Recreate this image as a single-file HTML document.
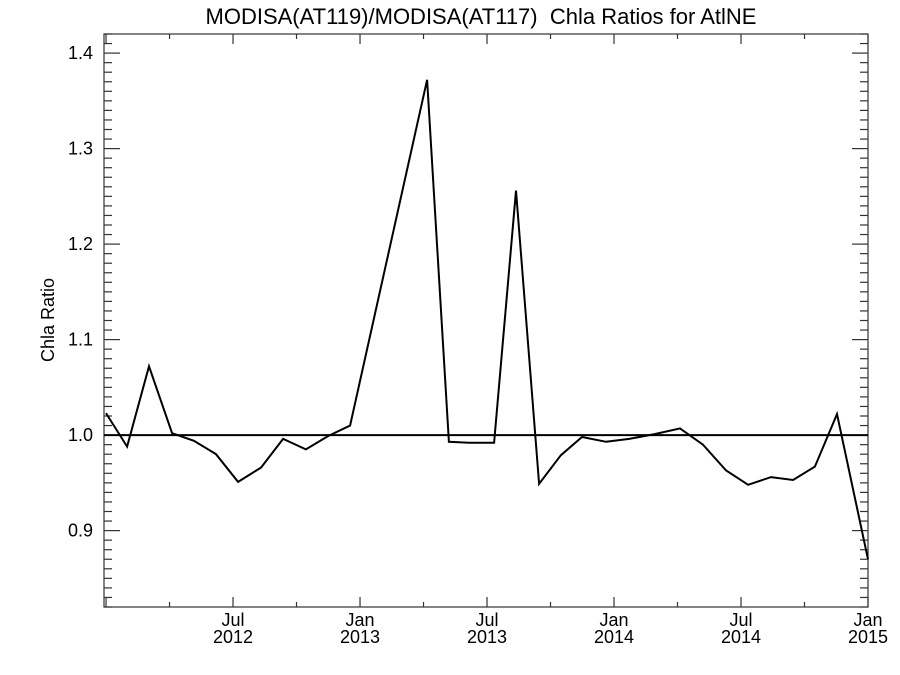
<!DOCTYPE html>
<html><head><meta charset="utf-8"><style>
html,body{margin:0;padding:0;background:#fff}
svg{display:block;font-family:"Liberation Sans",sans-serif}
</style></head><body>
<svg id="chart" width="900" height="675" viewBox="0 0 900 675" xmlns="http://www.w3.org/2000/svg">
<text x="481" y="24" font-size="22" text-anchor="middle" style="white-space:pre">MODISA(AT119)/MODISA(AT117)  Chla Ratios for AtlNE</text>
<text x="0" y="0" font-size="18" text-anchor="middle" transform="translate(54,320) rotate(-90)">Chla Ratio</text>
<g id="plot"></g>
</svg>
<script>
const dates=[2012.0,2012.083,2012.169,2012.260,2012.346,2012.433,2012.520,2012.610,2012.697,2012.787,2012.874,2012.961,2013.264,2013.350,2013.429,2013.528,2013.614,2013.705,2013.791,2013.874,2013.969,2014.06,2014.16,2014.260,2014.350,2014.441,2014.528,2014.618,2014.705,2014.791,2014.878,2015.0];
const ratios=[1.023,0.988,1.072,1.002,0.994,0.980,0.951,0.966,0.996,0.985,0.999,1.010,1.372,0.993,0.992,0.992,1.256,0.949,0.979,0.998,0.993,0.996,1.001,1.007,0.990,0.963,0.948,0.956,0.953,0.967,1.022,0.870];
const yTicks=[0.9,1.0,1.1,1.2,1.3,1.4];
const yTickLabels=["0.9","1.0","1.1","1.2","1.3","1.4"];
const xTicks=[2012.5,2013.0,2013.5,2014.0,2014.5,2015.0];
const xTickLabels=[["Jul","2012"],["Jan","2013"],["Jul","2013"],["Jan","2014"],["Jul","2014"],["Jan","2015"]];
const refValue=1.0;

const L=104,R=868,T=34,B=607;
const XMIN=2011.992,XMAX=2015.0,YMIN=0.82,YMAX=1.42;
const xs=v=>L+(v-XMIN)/(XMAX-XMIN)*(R-L);
const ys=v=>B-(v-YMIN)/(YMAX-YMIN)*(B-T);
const NS="http://www.w3.org/2000/svg";
const g=document.getElementById('plot');
function mk(tag,attrs,parent){const e=document.createElementNS(NS,tag);for(const k in attrs)e.setAttribute(k,attrs[k]);(parent||g).appendChild(e);return e;}

const frame=mk('rect',{x:L,y:T,width:R-L,height:B-T,fill:'none',stroke:'#333','stroke-width':1.2});



for(let i=0;i<=60;i++){
  const v=YMIN+i*0.01;const y=ys(v);
  const major=Math.abs(Math.round(v*10)-v*10)<1e-6;
  const len=major?16:8;
  const t1=mk('line',{x1:L,x2:L+len,y1:y,y2:y,stroke:'#333','stroke-width':1.2});
  
  
  const t2=mk('line',{x1:R,x2:R-len,y1:y,y2:y,stroke:'#333','stroke-width':1.2});
  
  
}
yTicks.forEach((v,i)=>{
  const t=mk('text',{x:L-11,y:ys(v)+6,'font-size':18,'text-anchor':'end'});
  t.textContent=yTickLabels[i];
  
  
});
for(let q=2012;q<=2015.001;q+=0.25){
  const x=xs(q);const major=Math.abs(q*2-Math.round(q*2))<1e-6;
  const len=major?10:5;
  const a=mk('line',{x1:x,x2:x,y1:B,y2:B-len,stroke:'#333','stroke-width':1.2});
  
  
  const b=mk('line',{x1:x,x2:x,y1:T,y2:T+len,stroke:'#333','stroke-width':1.2});
  
  
}
xTicks.forEach((v,i)=>{
  const x=xs(v);
  const t=mk('text',{x:x,y:626,'font-size':18,'text-anchor':'middle'});
  t.textContent=xTickLabels[i][0];
  
  
  const t2=mk('text',{x:x,y:643,'font-size':18,'text-anchor':'middle'});
  t2.textContent=xTickLabels[i][1];
  
  
});
const ref=mk('line',{x1:L,x2:R,y1:ys(refValue),y2:ys(refValue),stroke:'#000','stroke-width':2});


const pts=dates.map((d,i)=>xs(d).toFixed(1)+','+ys(ratios[i]).toFixed(1)).join(' ');
const line=mk('polyline',{points:pts,fill:'none',stroke:'#000','stroke-width':2,'stroke-linejoin':'miter'});


</script>
</body></html>
